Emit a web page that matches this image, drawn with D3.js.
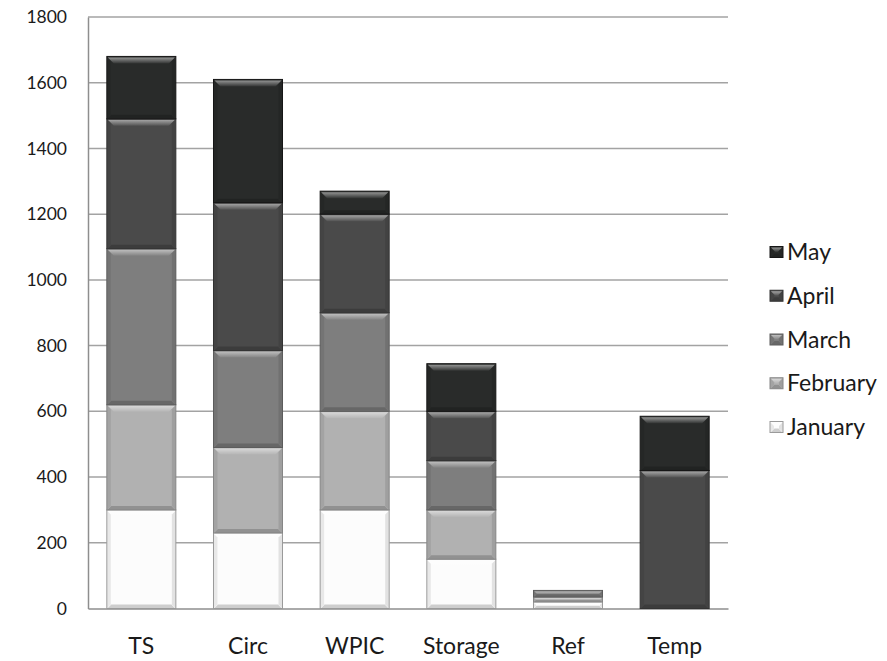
<!DOCTYPE html>
<html>
<head>
<meta charset="utf-8">
<script src="https://cdn.jsdelivr.net/npm/d3@7"></script>
<style>
  html, body { margin: 0; padding: 0; background: #ffffff; }
  svg { display: block; }
  text { font-family: Lato, "Open Sans", sans-serif; fill: #1a1a1a; }
</style>
</head>
<body>
<svg id="chart" width="887" height="661"></svg>
<script>
// Monthly totals per area (stacked January → May)
const categories = ["TS", "Circ", "WPIC", "Storage", "Ref", "Temp"];
const january  = [300, 230, 300, 150, 20, 0];
const february = [320, 260, 300, 150, 15, 0];
const march    = [475, 295, 300, 150, 20, 0];
const april    = [395, 450, 300, 150, 0, 420];
const may      = [190, 375, 70, 145, 0, 165];
const seriesNames = ["January", "February", "March", "April", "May"];
const yTicks = [0, 200, 400, 600, 800, 1000, 1200, 1400, 1600, 1800];

const seriesValues = [january, february, march, april, may];
const fills   = ["#fcfcfc", "#b1b1b1", "#7e7e7e", "#4a4a4a", "#292b2a"];
const strokes = ["#9a9a9a", "#868686", "#5c5c5c", "#333333", "#161616"];

const rows = categories.map((c, i) => {
  const r = { category: c };
  seriesNames.forEach((s, k) => { r[s] = seriesValues[k][i]; });
  return r;
});
const stacked = d3.stack().keys(seriesNames)(rows);

const svg = d3.select("#chart");
const plotLeft = 88, plotRight = 728, plotTop = 17, plotBottom = 608.5;

const x = d3.scaleBand().domain(categories).range([plotLeft, plotRight])
  .paddingInner(0.353).paddingOuter(0.1765);
const y = d3.scaleLinear().domain([0, 1800]).range([plotBottom, plotTop]);

// gridlines
svg.append("g").selectAll("line").data(yTicks.filter(t => t > 0)).join("line")
  .attr("x1", plotLeft).attr("x2", plotRight)
  .attr("y1", d => y(d)).attr("y2", d => y(d))
  .attr("stroke", "#a3a3a3").attr("stroke-width", 1.5);

// y axis
const yAxis = d3.axisLeft(y).tickValues(yTicks).tickFormat(d3.format("d"))
  .tickSize(0).tickPadding(21);
const gy = svg.append("g").attr("transform", `translate(${plotLeft},0)`).call(yAxis);
gy.select(".domain").attr("stroke", "#8e8e8e").attr("stroke-width", 1.5);
gy.selectAll("text").style("font-size", "17.5px").attr("fill", "#1a1a1a");

// x axis
const xAxis = d3.axisBottom(x).tickSize(0).tickPadding(29);
const gx = svg.append("g").attr("transform", `translate(0,${plotBottom})`).call(xAxis);
gx.select(".domain").attr("stroke", "#8e8e8e").attr("stroke-width", 1.5);
gx.selectAll("text").style("font-size", "23px").attr("fill", "#1a1a1a");

const defs = svg.append("defs");
const grad = defs.append("linearGradient").attr("id", "topGlow")
  .attr("x1", 0).attr("y1", 0).attr("x2", 0).attr("y2", 1);
grad.append("stop").attr("offset", "0%").attr("stop-color", "#fff").attr("stop-opacity", 0.5);
grad.append("stop").attr("offset", "100%").attr("stop-color", "#fff").attr("stop-opacity", 0.05);

// beveled block
function bevelBlock(g, bx, by, bw, bh, k) {
  g.append("rect").attr("x", bx).attr("y", by).attr("width", bw).attr("height", bh)
    .attr("fill", fills[k]).attr("stroke", strokes[k]).attr("stroke-width", 1);
  const b = Math.min(6, bh / 2.5), bb = Math.min(3.5, bh / 3);
  // top highlight
  g.append("polygon")
    .attr("points", [[bx + 1, by + 1], [bx + bw - 1, by + 1], [bx + bw - 1 - b, by + 1 + b], [bx + 1 + b, by + 1 + b]].join(" "))
    .attr("fill", "url(#topGlow)");
  // bottom shade
  g.append("polygon")
    .attr("points", [[bx + 1, by + bh - 0.5], [bx + bw - 1, by + bh - 0.5], [bx + bw - 1 - bb, by + bh - 0.5 - bb], [bx + 1 + bb, by + bh - 0.5 - bb]].join(" "))
    .attr("fill", "#000").attr("fill-opacity", 0.18);
  // side shades
  g.append("polygon")
    .attr("points", [[bx + 0.5, by + 1], [bx + 0.5 + bb, by + 1 + bb], [bx + 0.5 + bb, by + bh - 0.5 - bb], [bx + 0.5, by + bh - 0.5]].join(" "))
    .attr("fill", "#000").attr("fill-opacity", 0.08);
  g.append("polygon")
    .attr("points", [[bx + bw - 0.5, by + 1], [bx + bw - 0.5 - bb, by + 1 + bb], [bx + bw - 0.5 - bb, by + bh - 0.5 - bb], [bx + bw - 0.5, by + bh - 0.5]].join(" "))
    .attr("fill", "#000").attr("fill-opacity", 0.1);
}

// stacked bars
const barsG = svg.append("g");
stacked.forEach((layer, k) => {
  layer.forEach((d, i) => {
    const v = d[1] - d[0];
    if (v <= 0) return;
    const cat = categories[i];
    bevelBlock(barsG, x(cat), y(d[1]), x.bandwidth(), y(d[0]) - y(d[1]), k);
  });
});

// legend (May on top)
const legendOrder = seriesNames.map((s, k) => ({ s, k })).reverse();
const legendY = d3.scalePoint().domain(legendOrder.map(d => d.s)).range([252, 427]);
const lg = svg.append("g");
legendOrder.forEach(({ s, k }) => {
  const cy = legendY(s);
  bevelBlock(lg, 770, cy - 5.5, 13, 11, k);
  lg.append("text").attr("x", 787).attr("y", cy).attr("dy", "0.35em")
    .style("font-size", "23px").text(s);
});
</script>
</body>
</html>
